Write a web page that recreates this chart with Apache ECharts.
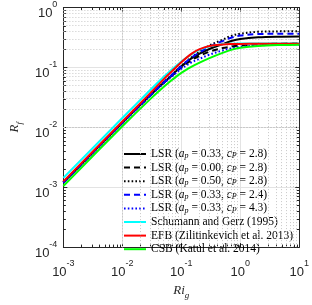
<!DOCTYPE html>
<html><head><meta charset="utf-8">
<script src="https://cdn.jsdelivr.net/npm/echarts@6/dist/echarts.min.js"></script>
<style>html,body{margin:0;padding:0;background:#fff}#c{width:312px;height:305px}</style>
</head><body><div id="c"></div>
<script>
// ---- data ----
const riValues      = [0.001, 0.01, 0.03, 0.05, 0.07, 0.1, 0.15, 0.2, 0.3, 0.5, 0.7, 1, 2, 5, 10];
const lsr_a033_c28  = [0.00120, 0.0119, 0.0345, 0.0555, 0.075, 0.104, 0.143, 0.168, 0.203, 0.245, 0.275, 0.298, 0.318, 0.326, 0.328];
const lsr_a000_c28  = [0.00120, 0.0119, 0.0343, 0.0550, 0.073, 0.100, 0.133, 0.155, 0.183, 0.210, 0.222, 0.232, 0.243, 0.249, 0.251];
const lsr_a050_c28  = [0.00120, 0.0119, 0.0346, 0.0558, 0.076, 0.106, 0.148, 0.180, 0.232, 0.290, 0.335, 0.365, 0.393, 0.400, 0.402];
const lsr_a033_c24  = [0.00120, 0.0119, 0.0346, 0.0557, 0.0755, 0.105, 0.146, 0.176, 0.222, 0.275, 0.312, 0.340, 0.360, 0.365, 0.366];
const lsr_a033_c43  = [0.00119, 0.0118, 0.0340, 0.0540, 0.071, 0.095, 0.122, 0.138, 0.163, 0.192, 0.208, 0.220, 0.233, 0.240, 0.242];
const schumannGerz  = [0.00143, 0.01426, 0.0423, 0.0689, 0.0935, 0.1257, 0.167, 0.1955, 0.226, 0.245, 0.249, 0.250, 0.250, 0.250, 0.250];
const efb           = [0.00125, 0.0125, 0.0375, 0.0630, 0.087, 0.122, 0.170, 0.200, 0.228, 0.242, 0.246, 0.247, 0.248, 0.248, 0.248];
const csb           = [0.00105, 0.0104, 0.0298, 0.0470, 0.062, 0.081, 0.103, 0.119, 0.143, 0.175, 0.196, 0.212, 0.228, 0.237, 0.240];
const seriesNames = ['LSR1','LSR2','LSR3','LSR4','LSR5','SG','EFB','CSB'];
const legendTexts = [
  '{n|LSR (}{i|a}{s|p}{n| = 0.33, }{i|c}{s|P}{n| = 2.8)}',
  '{n|LSR (}{i|a}{s|p}{n| = 0.00, }{i|c}{s|P}{n| = 2.8)}',
  '{n|LSR (}{i|a}{s|p}{n| = 0.50, }{i|c}{s|P}{n| = 2.8)}',
  '{n|LSR (}{i|a}{s|p}{n| = 0.33, }{i|c}{s|P}{n| = 2.4)}',
  '{n|LSR (}{i|a}{s|p}{n| = 0.33, }{i|c}{s|P}{n| = 4.3)}',
  '{n|Schumann and Gerz (1995)}',
  '{n|EFB (Zilitinkevich et al. 2013)}',
  '{n|CSB (Katul et al. 2014)}'
];
const xTickExps = [-3, -2, -1, 0, 1];
const yTickExps = [-4, -3, -2, -1, 0];

// ---- chart ----
const values = [lsr_a033_c28, lsr_a000_c28, lsr_a050_c28, lsr_a033_c24, lsr_a033_c43, schumannGerz, efb, csb];
const colors = ['#000000','#000000','#000000','#0000ff','#0000ff','#00ffff','#ff0000','#00ff00'];
const dashes = ['solid',[6,4],[1.6,2.2],[6,4],[1.6,2.2],'solid','solid','solid'];

const xMin = 1e-3, xMax = 10, yMin = 1e-4, yMax = 1;
const minorX = [], minorY = [];
for (let e = -3; e < 1; e++) for (let k = 2; k <= 9; k++) minorX.push(k * Math.pow(10, e));
for (let e = -4; e < 0; e++) for (let k = 2; k <= 9; k++) minorY.push(k * Math.pow(10, e));

const serif = "'Liberation Serif', 'DejaVu Serif', serif";
const sans = "'Liberation Sans', Arial, sans-serif";
const axisColor = '#262626';

function expLabel(v) {
  const e = Math.round(Math.log10(v));
  return '{b|10}{s|' + (e < 0 ? '-' + (-e) : e) + '}';
}
const tickRich = {
  b: {fontFamily: sans, fontSize: 13, color: axisColor, lineHeight: 20, verticalAlign: 'bottom'},
  s: {fontFamily: sans, fontSize: 9, color: axisColor, lineHeight: 10, verticalAlign: 'top'}
};

const lineSeries = seriesNames.map((name, i) => ({
  name: name, type: 'line', symbol: 'none', smooth: 0.35, z: 5 + i,
  data: riValues.map((r, j) => [r, values[i][j]]),
  lineStyle: {color: colors[i], width: 2, type: dashes[i], cap: 'butt'},
  itemStyle: {color: colors[i]},
  emphasis: {disabled: true}, animation: false
}));

const minorGrid = {
  type: 'line', data: [], silent: true, z: 1, animation: false,
  markLine: {
    silent: true, symbol: 'none', animation: false, label: {show: false},
    lineStyle: {type: [1, 2], color: '#c8c8c8', width: 1},
    data: minorX.map(v => ({xAxis: v})).concat(minorY.map(v => ({yAxis: v})))
  }
};

const minorTicks = {
  type: 'custom', silent: true, z: 3, animation: false,
  data: minorX.map(v => [v, 0]).concat(minorY.map(v => [0, v])),
  encode: {x: -1, y: -1},
  renderItem: function (params, api) {
    const vx = api.value(0), vy = api.value(1);
    const st = {stroke: axisColor, lineWidth: 1};
    if (vx > 0) {
      const b = api.coord([vx, yMin]), t = api.coord([vx, yMax]);
      const x = Math.round(b[0]) + 0.5;
      return {type: 'group', children: [
        {type: 'line', shape: {x1: x, y1: b[1], x2: x, y2: b[1] - 2.5}, style: st},
        {type: 'line', shape: {x1: x, y1: t[1], x2: x, y2: t[1] + 2.5}, style: st}
      ]};
    } else {
      const l = api.coord([xMin, vy]), r = api.coord([xMax, vy]);
      const y = Math.round(l[1]) + 0.5;
      return {type: 'group', children: [
        {type: 'line', shape: {x1: l[0], y1: y, x2: l[0] + 2.5, y2: y}, style: st},
        {type: 'line', shape: {x1: r[0], y1: y, x2: r[0] - 2.5, y2: y}, style: st}
      ]};
    }
  }
};

const baseX = {type: 'log', logBase: 10, min: xMin, max: xMax};
const baseY = {type: 'log', logBase: 10, min: yMin, max: yMax};

const option = {
  backgroundColor: '#ffffff',
  animation: false,
  grid: {left: 48, right: 10, top: 7, bottom: 43, containLabel: false},
  xAxis: [
    Object.assign({}, baseX, {
      position: 'bottom',
      axisLine: {show: true, lineStyle: {color: axisColor, width: 1}},
      axisTick: {show: true, inside: true, length: 4, lineStyle: {color: axisColor}},
      splitLine: {show: true, lineStyle: {color: '#e3e3e3', width: 1}},
      axisLabel: {margin: 12, formatter: expLabel, rich: tickRich},
      name: '{i|Ri}{s|g}', nameLocation: 'middle', nameGap: 22,
      nameTextStyle: {rich: {
        i: {fontFamily: serif, fontStyle: 'italic', fontSize: 13, color: axisColor, lineHeight: 16, verticalAlign: 'top'},
        s: {fontFamily: serif, fontStyle: 'italic', fontSize: 9, color: axisColor, lineHeight: 8, verticalAlign: 'bottom'}
      }}
    }),
    Object.assign({}, baseX, {
      position: 'top',
      axisLine: {show: true, lineStyle: {color: axisColor, width: 1}},
      axisTick: {show: true, inside: true, length: 4, lineStyle: {color: axisColor}},
      splitLine: {show: false}, axisLabel: {show: false}
    })
  ],
  yAxis: [
    Object.assign({}, baseY, {
      position: 'left',
      axisLine: {show: true, lineStyle: {color: axisColor, width: 1}},
      axisTick: {show: true, inside: true, length: 4, lineStyle: {color: axisColor}},
      splitLine: {show: true, lineStyle: {color: '#e3e3e3', width: 1}},
      axisLabel: {margin: 6, formatter: expLabel, rich: tickRich, padding: [5, 0, 0, 0]},
      name: '{i|R}{s|f}', nameLocation: 'middle', nameGap: 28, nameRotate: 90,
      nameTextStyle: {rich: {
        i: {fontFamily: serif, fontStyle: 'italic', fontSize: 13, color: axisColor, lineHeight: 16, verticalAlign: 'top'},
        s: {fontFamily: serif, fontStyle: 'italic', fontSize: 9, color: axisColor, lineHeight: 8, verticalAlign: 'bottom'}
      }}
    }),
    Object.assign({}, baseY, {
      position: 'right',
      axisLine: {show: true, lineStyle: {color: axisColor, width: 1}},
      axisTick: {show: true, inside: true, length: 4, lineStyle: {color: axisColor}},
      splitLine: {show: false}, axisLabel: {show: false}
    })
  ],
  legend: {
    data: seriesNames, orient: 'vertical', left: 123, top: 148,
    itemWidth: 22, itemHeight: 12, itemGap: 1.6, padding: 0,
    selectedMode: false, backgroundColor: 'transparent',
    itemStyle: {opacity: 0},
    formatter: function (name) { return legendTexts[seriesNames.indexOf(name)]; },
    textStyle: {rich: {
      n: {fontFamily: serif, fontSize: 11.5, color: '#000', lineHeight: 12, verticalAlign: 'middle'},
      i: {fontFamily: serif, fontStyle: 'italic', fontSize: 11.5, color: '#000', lineHeight: 12, verticalAlign: 'middle'},
      s: {fontFamily: serif, fontStyle: 'italic', fontSize: 8, color: '#000', lineHeight: 5, verticalAlign: 'bottom'}
    }}
  },
  series: [minorGrid, minorTicks].concat(lineSeries)
};

const chart = echarts.init(document.getElementById('c'), null, {renderer: 'canvas'});
chart.setOption(option);
</script>
</body></html>
